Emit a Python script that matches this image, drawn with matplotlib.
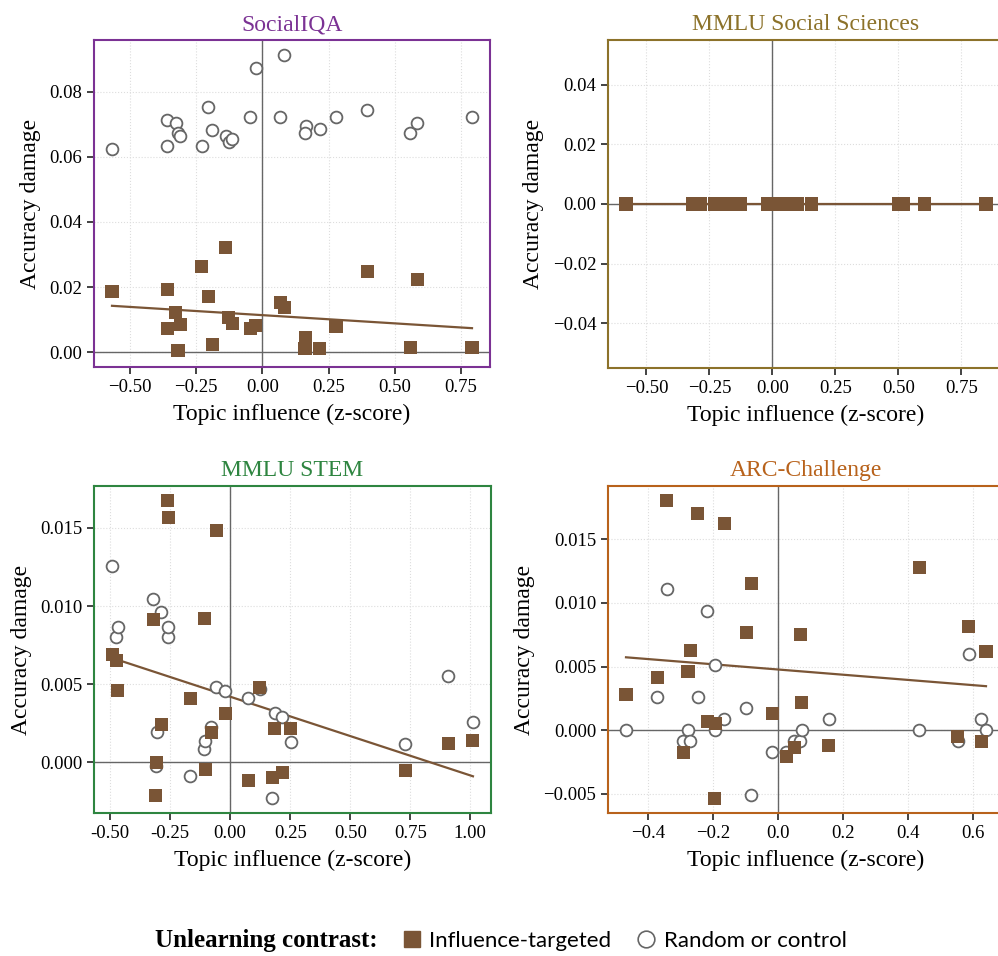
import numpy as np
import matplotlib
matplotlib.use("Agg")
import matplotlib.pyplot as plt
from matplotlib.lines import Line2D
from matplotlib.ticker import FormatStrFormatter

# ---------------- data ----------------
siqa_x = [-0.567, -0.358, -0.358, -0.326, -0.318, -0.309, -0.229, -0.204, -0.188, -0.138, -0.126, -0.114,
          -0.046, -0.024, 0.068, 0.083, 0.163, 0.161, 0.217, 0.278, 0.396, 0.559, 0.584, 0.791]
siqa_targeted = [0.0185, 0.0193, 0.0072, 0.0121, 0.0004, 0.0086, 0.0262, 0.0172, 0.0023, 0.0321, 0.0107, 0.0089,
                 0.0072, 0.0083, 0.0152, 0.0138, 0.0046, 0.0011, 0.0011, 0.0079, 0.0248, 0.0014, 0.0224, 0.0014]
siqa_random = [0.0623, 0.0713, 0.0634, 0.0703, 0.0673, 0.0664, 0.0634, 0.0754, 0.0683, 0.0664, 0.0646, 0.0654,
               0.0723, 0.0873, 0.0723, 0.0913, 0.0693, 0.0673, 0.0684, 0.0723, 0.0744, 0.0673, 0.0704, 0.0723]

mmlu_soc_x = [-0.581, -0.316, -0.286, -0.23, -0.21, -0.19, -0.17, -0.15, -0.125, -0.02, 0.0, 0.03,
              0.06, 0.08, 0.10, 0.155, 0.50, 0.52, 0.605, 0.848]
mmlu_soc_targeted = [0.0] * 20

stem_x = [-0.492, -0.474, -0.469, -0.320, -0.310, -0.305, -0.287, -0.260, -0.257, -0.166, -0.107, -0.104,
          -0.078, -0.059, -0.021, 0.075, 0.124, 0.175, 0.186, 0.217, 0.253, 0.730, 0.908, 1.011]
stem_targeted = [0.00691, 0.00651, 0.00463, 0.00913, -0.00211, 0.0000, 0.00245, 0.01673, 0.01564, 0.00410, 0.00920, -0.00043,
                 0.00194, 0.01483, 0.00312, -0.00117, 0.00480, -0.00094, 0.00216, -0.00064, 0.00216, -0.00051, 0.00120, 0.00141]
stem_random = [0.01255, 0.00802, 0.00866, 0.01046, -0.00021, 0.00194, 0.00960, 0.00805, 0.00864, -0.00087, 0.00085, 0.00137,
               0.00226, 0.00484, 0.00459, 0.00414, 0.00470, -0.00228, 0.00318, 0.00292, 0.00134, 0.00117, 0.00551, 0.00256]

arc_x = [-0.468, -0.372, -0.342, -0.291, -0.277, -0.270, -0.247, -0.217, -0.195, -0.165, -0.097, -0.082,
         -0.018, 0.026, 0.051, 0.069, 0.074, 0.156, 0.435, 0.554, 0.588, 0.626, 0.641, -0.193]
arc_targeted = [0.00281, 0.00415, 0.01803, -0.00176, 0.00459, 0.00625, 0.01706, 0.00066, -0.00535, 0.01622, 0.00766, 0.01152,
                0.00134, -0.00210, -0.00139, 0.00753, 0.00220, -0.00118, 0.01276, -0.00050, 0.00814, -0.00092, 0.00622, 0.00052]
arc_random = [0.0, 0.00257, 0.01110, -0.00084, 0.0, -0.00084, 0.00257, 0.00937, 0.0, 0.00084, 0.00171, -0.00512,
              -0.00173, -0.00173, -0.00084, -0.00084, 0.0, 0.00084, 0.0, -0.00084, 0.00598, 0.00084, 0.0, 0.00512]

stem_yticks = [0.0, 0.005, 0.010, 0.015]
stem_xticks = [-0.5, -0.25, 0, 0.25, 0.5, 0.75, 1.0]
arc_xticks = [-0.4, -0.2, 0, 0.2, 0.4, 0.6]

panels = [
    ("SocialIQA", "#7b3294", siqa_x, siqa_targeted, siqa_random),
    ("MMLU Social Sciences", "#8c722a", mmlu_soc_x, mmlu_soc_targeted, None),
    ("MMLU STEM", "#2e8540", stem_x, stem_targeted, stem_random),
    ("ARC-Challenge", "#b8621b", arc_x, arc_targeted, arc_random),
]

brown = "#7a5536"
serif = ["Liberation Serif", "DejaVu Serif"]
plt.rcParams["font.family"] = serif

fig = plt.figure(figsize=(9.98, 9.56), dpi=100)
W, H = 998, 956
boxes = [(94, 40, 396, 327), (608, 40, 396, 328), (94, 486, 397, 327), (608, 486, 396, 327)]

for i, ((title, col, xs, yt, yr), (l, t, w, h)) in enumerate(zip(panels, boxes)):
    ax = fig.add_axes([l / W, 1 - (t + h) / H, w / W, h / H])
    ax.grid(True, color="#dddddd", linestyle=":", linewidth=0.8)
    ax.set_axisbelow(True)
    ax.axhline(0, color="#666666", lw=1.0, zorder=1)
    ax.axvline(0, color="#666666", lw=1.0, zorder=1)
    if yr is not None:
        ax.scatter(xs, yr, s=72, facecolor="white", edgecolor="#666666", linewidths=1.3, zorder=3)
    ax.scatter(xs, yt, s=88, marker="s", color=brown, edgecolor="none", zorder=4)
    xa = np.asarray(xs)
    ya = np.asarray(yt)
    if np.ptp(ya) > 0:
        m, b = np.polyfit(xa, ya, 1)
        xx = np.array([xa.min(), xa.max()])
        ax.plot(xx, m * xx + b, color=brown, lw=1.6, zorder=2)
    else:
        ax.plot([xa.min(), xa.max()], [0, 0], color=brown, lw=1.6, zorder=2)
    ax.set_title(title, color=col, fontsize=17, pad=7)
    for s in ax.spines.values():
        s.set_color(col)
        s.set_linewidth(1.5)
    if i in (1, 3):
        ax.spines["right"].set_visible(False)
    ax.tick_params(labelsize=13.5, length=5, width=1.2, color="#222222")
    ax.set_xlabel("Topic influence (z-score)", fontsize=17, labelpad=6)
    ax.set_ylabel("Accuracy damage", fontsize=17, labelpad=6)

    if title == "MMLU STEM":
        ax.set_xticks(stem_xticks)
        ax.set_yticks(stem_yticks)
        ax.yaxis.set_major_formatter(FormatStrFormatter("%.3f"))
        ax.xaxis.set_major_formatter(FormatStrFormatter("%.2f"))
    if title == "ARC-Challenge":
        ax.set_xticks(arc_xticks)

# legend
handles = [Line2D([], [], marker="s", ls="none", color=brown, markersize=12),
           Line2D([], [], marker="o", ls="none", markerfacecolor="white", markeredgecolor="#666666",
                  markersize=12, markeredgewidth=1.2)]
leg = fig.legend(handles, ["Influence-targeted", "Random or control"], loc="center",
                 bbox_to_anchor=(623 / W, 1 - 941 / H), ncol=2, frameon=False,
                 prop={"family": ["Lato", "DejaVu Sans"], "size": 16},
                 handletextpad=0.25, columnspacing=1.0, handlelength=1.1)
fig.text(378 / W, 1 - 941 / H, "Unlearning contrast:", ha="right", va="center",
         fontsize=18, fontweight="bold", family=serif)

fig.savefig("out.png", dpi=100)
